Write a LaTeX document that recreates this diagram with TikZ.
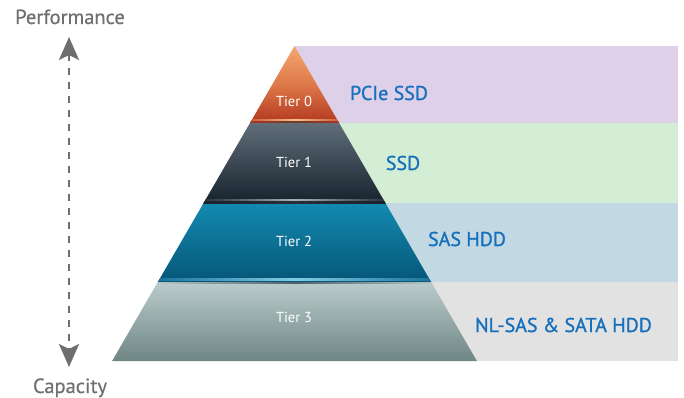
\documentclass[tikz,border=0pt]{standalone}
\usepackage{fontspec}
\setmainfont{PT Sans}
\newfontfamily\medsans[FakeBold=1.1]{PT Sans}
\newfontfamily\lightbold[FakeBold=0.5]{PT Sans}
\usetikzlibrary{arrows.meta}
\definecolor{txtgray}{RGB}{112,112,112}
\definecolor{arrgray}{RGB}{110,110,110}
\definecolor{lblue}{RGB}{22,112,188}
\definecolor{bandA}{RGB}{222,208,232}
\definecolor{bandB}{RGB}{212,238,214}
\definecolor{bandC}{RGB}{194,216,226}
\definecolor{bandD}{RGB}{226,226,226}
\definecolor{zTop}{RGB}{244,168,112}
\definecolor{zMid}{RGB}{222,120,72}
\definecolor{zBot}{RGB}{178,56,32}
\definecolor{oTop}{RGB}{96,110,122}
\definecolor{oBot}{RGB}{22,34,44}
\definecolor{wTop}{RGB}{19,138,176}
\definecolor{wBot}{RGB}{6,86,120}
\definecolor{hTop}{RGB}{186,204,203}
\definecolor{hBot}{RGB}{110,134,132}
\definecolor{zHiE}{RGB}{196,72,40}
\definecolor{zHiM}{RGB}{248,190,140}
\definecolor{zDk}{RGB}{110,60,44}
\definecolor{oHiE}{RGB}{26,38,48}
\definecolor{oHiM}{RGB}{170,176,182}
\definecolor{oDk}{RGB}{40,46,54}
\definecolor{wHiE}{RGB}{20,110,150}
\definecolor{wHiM}{RGB}{130,205,228}
\definecolor{wDk}{RGB}{80,96,102}
\begin{document}
\begin{tikzpicture}[x=1pt,y=-1pt,
  axislabel/.style={text=txtgray,font=\lightbold\fontsize{20.5}{22}\selectfont,anchor=base,inner sep=0pt},
  tierlabel/.style={text=white,font=\fontsize{14.5}{16}\selectfont,anchor=base,inner sep=0pt},
  medialabel/.style={text=lblue,font=\medsans\fontsize{20}{22}\selectfont,anchor=base,inner sep=0pt},
]
\useasboundingbox (0,0) rectangle (684,398);
\fill[white] (0,0) rectangle (684,398);
% bands
\fill[bandA] (295,46) rectangle (678,123);
\fill[bandB] (290,123) rectangle (678,203);
\fill[bandC] (290,203) rectangle (678,282);
\fill[bandD] (290,282) rectangle (678,361);
% tiers
\shade[top color=zTop, bottom color=zBot, middle color=zMid]
  (294.5,46) -- (339.1,123) -- (250,123) -- cycle;
\shade[top color=oTop, bottom color=oBot]
  (250,123) -- (339.1,123) -- (385.4,203) -- (203.6,203) -- cycle;
\shade[top color=wTop, bottom color=wBot]
  (203.6,203) -- (385.4,203) -- (431.1,282) -- (157.8,282) -- cycle;
\shade[top color=hTop, bottom color=hBot]
  (157.8,282) -- (431.1,282) -- (476.9,361) -- (112.1,361) -- cycle;
% boundary highlights
\begin{scope}
\clip (294.5,46) -- (476.9,361) -- (112.1,361) -- cycle;
\shade[left color=zHiE, right color=zHiE, middle color=zHiM]
  (240,120) rectangle (350,121.6);
\shade[left color=zBot, right color=zBot, middle color=zDk]
  (240,121.6) rectangle (350,123);
\shade[left color=oHiE, right color=oHiE, middle color=oHiM]
  (195,199.4) rectangle (395,201);
\shade[left color=oBot, right color=oBot, middle color=oDk]
  (195,201) rectangle (395,203);
\shade[left color=wHiE, right color=wHiE, middle color=wHiM]
  (150,278.4) rectangle (440,280.2);
\shade[left color=hTop, right color=hTop, middle color=wDk]
  (150,282) rectangle (440,283.2);
\end{scope}
% texts
\node[axislabel] (perf) at (70,24) {Performance};
\node[axislabel] (cap) at (70,393) {Capacity};
\coordinate (atop) at (69,37);
\coordinate (abot) at (69,367);
\draw[arrgray, line width=2.5pt, dash pattern=on 7pt off 7pt,
  {Stealth[length=23pt,width=20pt,inset=5pt]}-{Stealth[length=23pt,width=20pt,inset=5pt]}]
  (atop) -- (abot);
\node[tierlabel] (t0) at (294,107) {Tier 0};
\node[tierlabel] (t1) at (294,167) {Tier 1};
\node[tierlabel] (t2) at (294,246) {Tier 2};
\node[tierlabel] (t3) at (294,322) {Tier 3};
\node[medialabel] (l0) at (389,100) {PCIe SSD};
\node[medialabel] (l1) at (403,170) {SSD};
\node[medialabel] (l2) at (467,246) {SAS HDD};
\node[medialabel] (l3) at (563.5,332) {NL-SAS \& SATA HDD};
\end{tikzpicture}
\end{document}
